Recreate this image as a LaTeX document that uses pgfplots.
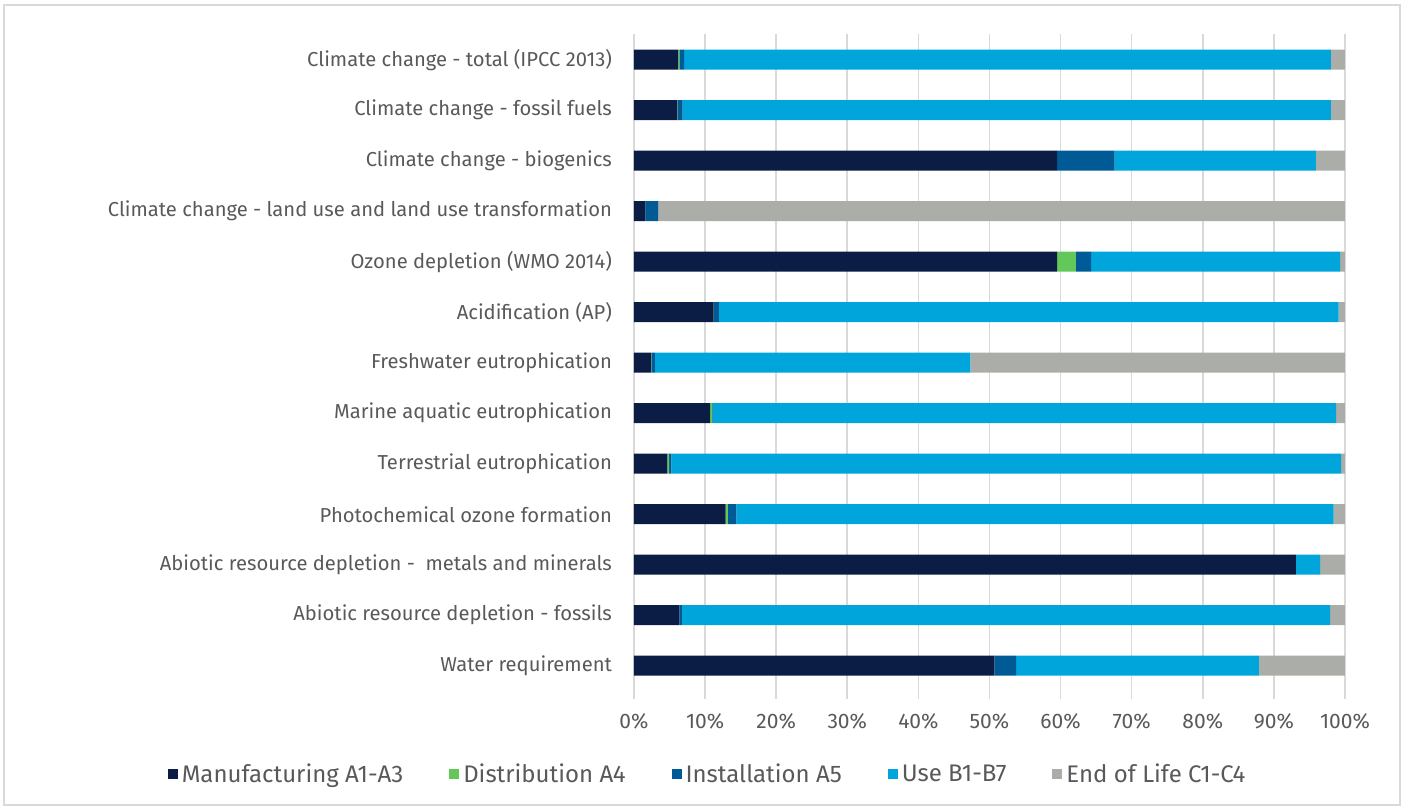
\documentclass[border=0pt]{standalone}
\usepackage{fontspec}
\setmainfont{Fira Sans}
\usepackage{pgfplots}
\pgfplotsset{compat=1.18}
\definecolor{manuf}{HTML}{0B1C45}
\definecolor{distr}{HTML}{63C85A}
\definecolor{inst}{HTML}{005A96}
\definecolor{use}{HTML}{00A5DC}
\definecolor{eol}{HTML}{ABADA8}
\definecolor{gridc}{HTML}{D9D9D9}
\definecolor{txt}{HTML}{595959}
\begin{document}
\begin{tikzpicture}
\useasboundingbox (-317pt,-58.5pt) rectangle (385.5pt,345.5pt);
\draw[color=gridc, line width=1pt] (-315pt,-57pt) rectangle (383pt,343pt);
\begin{axis}[
  at={(0pt,0pt)}, anchor=south west,
  scale only axis, width=355.5pt, height=328.25pt,
  xbar stacked, bar width=10pt,
  xmin=0, xmax=100, ymin=-0.5, ymax=12.5,
  axis line style={draw=none},
  xmajorgrids, grid style={color=gridc, line width=0.8pt},
  xtick={0,10,...,100},
  xticklabels={0\%,10\%,20\%,30\%,40\%,50\%,60\%,70\%,80\%,90\%,100\%},
  xtick pos=bottom, xtick align=outside, major tick length=4pt,
  x tick style={color=gridc, line width=0.8pt},
  ytick={0,...,12},
  yticklabels={Water requirement, Abiotic resource depletion - fossils, Abiotic resource depletion - \ metals and minerals, Photochemical ozone formation, Terrestrial eutrophication, Marine aquatic eutrophication, Freshwater eutrophication, Acidification (AP), Ozone depletion (WMO 2014), Climate change - land use and land use transformation, Climate change - biogenics, Climate change - fossil fuels, Climate change - total (IPCC 2013)},
  y tick style={draw=none},
  yticklabel style={font=\fontsize{10.1}{12}\selectfont, text=txt, xshift=-7.5pt},
  xticklabel style={font=\fontsize{10.5}{12}\selectfont, text=txt, yshift=-4pt},
  legend style={at={(0.105,-0.127)}, anchor=center, draw=none, fill=none,
    legend columns=5, font=\fontsize{12}{14}\selectfont, text=txt,
    /tikz/every even column/.append style={column sep=21pt}},
  legend image code/.code={\fill[#1] (0pt,-2.5pt) rectangle (5pt,2.5pt);},
  every axis plot/.append style={draw=none},
]
\addplot[fill=manuf] coordinates {(50.7,0) (6.4,1) (93.1,2) (12.9,3) (4.7,4) (10.7,5) (2.4,6) (11.2,7) (59.5,8) (1.6,9) (59.5,10) (6.1,11) (6.2,12)};
\addplot[fill=distr] coordinates {(0,0) (0,1) (0,2) (0.3,3) (0.25,4) (0.3,5) (0.05,6) (0.05,7) (2.65,8) (0,9) (0,10) (0.05,11) (0.2,12)};
\addplot[fill=inst] coordinates {(3.05,0) (0.35,1) (0,2) (1.2,3) (0.3,4) (0.05,5) (0.5,6) (0.7,7) (2.15,8) (1.8,9) (8.1,10) (0.7,11) (0.65,12)};
\addplot[fill=use] coordinates {(34.15,0) (91.15,1) (3.4,2) (84.0,3) (94.2,4) (87.7,5) (44.35,6) (87.15,7) (35.0,8) (0,9) (28.3,10) (91.15,11) (90.95,12)};
\addplot[fill=eol] coordinates {(12.1,0) (2.1,1) (3.5,2) (1.6,3) (0.55,4) (1.25,5) (52.7,6) (0.9,7) (0.7,8) (96.6,9) (4.1,10) (2.0,11) (2.0,12)};
\legend{Manufacturing A1-A3, Distribution A4, Installation A5, Use B1-B7, End of Life C1-C4}
\end{axis}
\end{tikzpicture}
\end{document}
